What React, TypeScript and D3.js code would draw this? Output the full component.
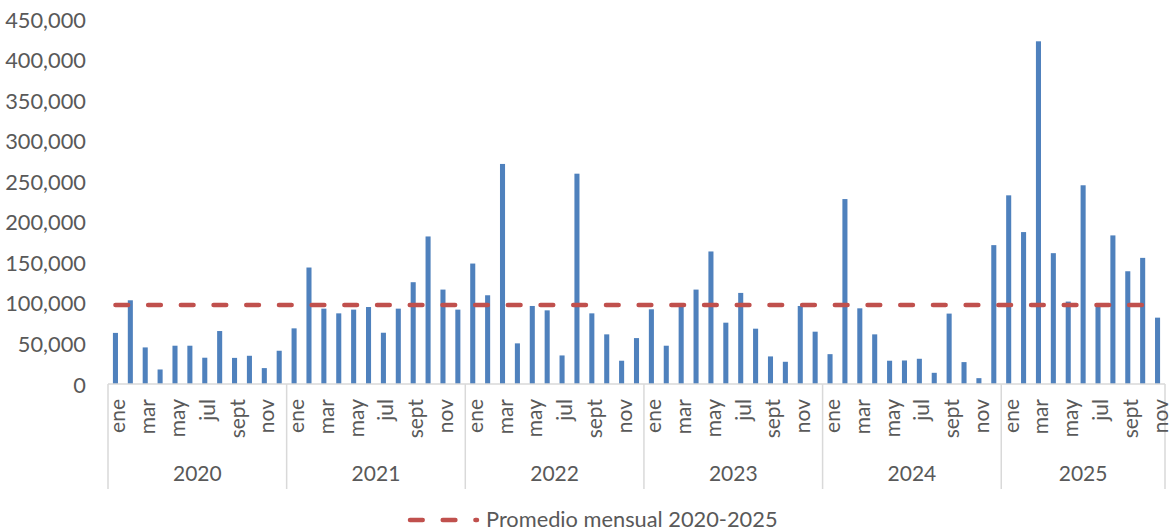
import React from 'react';
import * as d3 from 'd3';

// monthly values
const years = ['2020', '2021', '2022', '2023', '2024', '2025'];
const months = ['ene', 'feb', 'mar', 'abr', 'may', 'jun', 'jul', 'ago', 'sept', 'oct', 'nov', 'dic'];

const v2020 = [63000, 103200, 45100, 17900, 47200, 47200, 32400, 65300, 32200, 34800, 19600, 41000];
const v2021 = [68600, 143600, 92900, 87100, 91700, 94900, 63200, 92900, 125500, 181900, 116400, 91700];
const v2022 = [148500, 109400, 271300, 50100, 96200, 90800, 35200, 259300, 87100, 61200, 28700, 56600];
const v2023 = [92100, 47200, 95800, 116400, 163400, 75600, 112300, 68200, 34000, 27400, 96200, 64500];
const v2024 = [36800, 228000, 93300, 61200, 28700, 29000, 31100, 13800, 86800, 27000, 7200, 171200];
const v2025 = [232600, 187300, 422500, 161300, 101600, 245000, 96600, 183200, 139000, 155500, 81800];

const yTicks = [0, 50000, 100000, 150000, 200000, 250000, 300000, 350000, 400000, 450000];
const legendLabel = 'Promedio mensual 2020-2025';

const W = 1169;
const H = 528;
const FONT = 'Lato, "Open Sans", sans-serif';
const GRAY = '#595959';
const AXIS = '#D9D9D9';

const series = [v2020, v2021, v2022, v2023, v2024, v2025];
const rows = series.flatMap((vals, yi) =>
  vals.map((v, mi) => ({ year: years[yi], month: mi, value: v }))
);
const average = d3.mean(rows, (d) => d.value) as number;

const App = () => {
  const margin = { left: 108, right: 4, top: 19, bottom: 144 };
  const x = d3
    .scaleBand<number>()
    .domain(d3.range(rows.length))
    .range([margin.left, W - margin.right])
    .paddingInner(0.66)
    .paddingOuter(0.33);
  const y = d3.scaleLinear().domain([0, 450000]).range([H - margin.bottom, margin.top]);
  const step = x.step();
  const base = y(0);
  const cx = (i: number) => (x(i) as number) + x.bandwidth() / 2;
  const fmt = d3.format(',');

  // start index of each year on the category axis
  const yearStarts = series.map((_, yi) =>
    d3.sum(series.slice(0, yi), (s) => s.length)
  );
  const edge = (i: number) => margin.left + i * step;

  const avgLine = d3
    .line<number>()
    .x((i) => cx(i))
    .y(() => y(average));

  return (
    <svg
      width={W}
      height={H}
      style={{ position: 'absolute', left: 0, top: 0, background: '#fff' }}
      fontFamily={FONT}
    >
      {/* y axis labels */}
      {yTicks.map((t) => (
        <text
          key={t}
          x={86}
          y={y(t)}
          textAnchor="end"
          dominantBaseline="central"
          fontSize={21.8}
          fill={GRAY}
        >
          {fmt(t)}
        </text>
      ))}

      {/* bars */}
      {rows.map((d, i) => (
        <rect
          key={i}
          x={x(i)}
          y={y(d.value)}
          width={x.bandwidth()}
          height={base - y(d.value)}
          fill="#4F81BD"
        />
      ))}

      {/* category axis */}
      <line x1={margin.left} x2={edge(rows.length)} y1={base} y2={base} stroke={AXIS} strokeWidth={1.5} />
      {yearStarts.map((s, yi) => (
        <line key={'sep' + yi} x1={edge(s)} x2={edge(s)} y1={base} y2={489} stroke={AXIS} strokeWidth={1.5} />
      ))}
      <line x1={edge(rows.length)} x2={edge(rows.length)} y1={base} y2={489} stroke={AXIS} strokeWidth={1.5} />

      {rows.map((d, i) =>
        d.month % 2 === 0 ? (
          <text
            key={'m' + i}
            transform={`translate(${cx(i) + 1.5},399) rotate(-90)`}
            textAnchor="end"
            dominantBaseline="central"
            fontSize={21}
            fill={GRAY}
          >
            {months[d.month]}
          </text>
        ) : null
      )}

      {years.map((yr, yi) => (
        <text
          key={yr}
          x={(edge(yearStarts[yi]) + edge(yearStarts[yi] + series[yi].length)) / 2}
          y={472}
          textAnchor="middle"
          dominantBaseline="central"
          fontSize={21}
          fill={GRAY}
        >
          {yr}
        </text>
      ))}

      {/* average line */}
      <path
        d={avgLine(d3.range(rows.length)) as string}
        fill="none"
        stroke="#C0504D"
        strokeWidth={4.5}
        strokeDasharray="12.7 20"
        strokeLinecap="round"
      />

      {/* legend */}
      <line
        x1={410}
        x2={477}
        y1={520}
        y2={520}
        stroke="#C0504D"
        strokeWidth={4.5}
        strokeDasharray="12.7 20"
        strokeLinecap="round"
      />
      <text x={486} y={518.5} dominantBaseline="central" fontSize={21.8} fill={GRAY}>
        {legendLabel}
      </text>
    </svg>
  );
};

export default App;
